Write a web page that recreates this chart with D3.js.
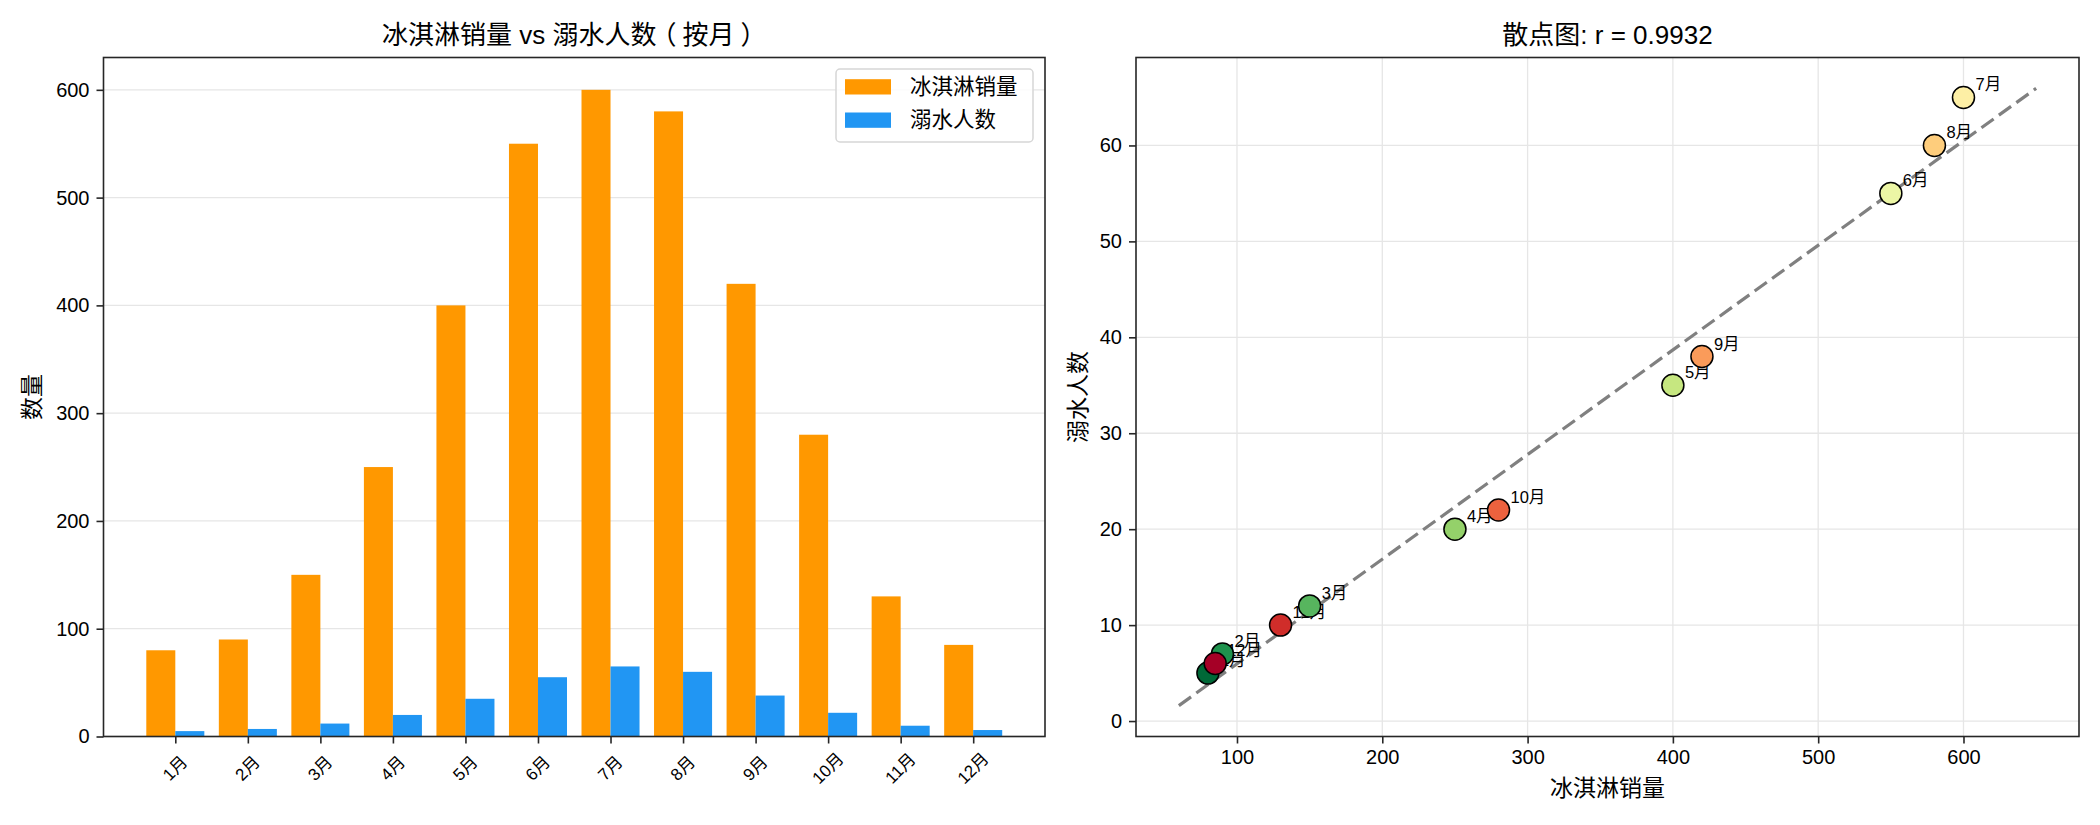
<!DOCTYPE html>
<html>
<head>
<meta charset="utf-8">
<script src="https://cdn.jsdelivr.net/npm/d3@7"></script>
<style>
  body { margin: 0; background: #fff; }
  svg text { font-family: "Liberation Sans", Arial, "Noto Sans CJK SC", sans-serif; fill: #000; }
</style>
</head>
<body>
<div id="chart"></div>
<script>
// data
var months = ["1月", "2月", "3月", "4月", "5月", "6月", "7月", "8月", "9月", "10月", "11月", "12月"];
var iceCream = [80, 90, 150, 250, 400, 550, 600, 580, 420, 280, 130, 85];
var drowning = [5, 7, 12, 20, 35, 55, 65, 60, 38, 22, 10, 6];
var barTicks = [0, 100, 200, 300, 400, 500, 600];
var scatterXTicks = [100, 200, 300, 400, 500, 600];
var scatterYTicks = [0, 10, 20, 30, 40, 50, 60];
var seriesNames = ["冰淇淋销量", "溺水人数"];
var seriesColors = ["#ff9800", "#2196f3"];

var svgWidth = 2100;
var svgHeight = 825;
var spineColor = "#262626";

var svg = d3.select("#chart")
  .append("svg")
  .attr("width", svgWidth)
  .attr("height", svgHeight);

// matplotlib-like 5% margins
function pad(lo, hi) {
  var s = hi - lo;
  return [lo - 0.05 * s, hi + 0.05 * s];
}

function styleAxis(g) {
  g.select(".domain").remove();
  g.selectAll(".tick line").attr("stroke", spineColor).attr("stroke-width", 1.6);
  g.selectAll(".tick text").style("font-size", "20px").attr("fill", "#000");
}

// ============ left: grouped bars ============
var L = { left: 103.5, right: 1045, top: 57.5, bottom: 736.5 };
var barW = 0.4;

var xBar = d3.scaleLinear()
  .domain(pad(-barW, months.length - 1 + barW))
  .range([L.left, L.right]);
var yBar = d3.scaleLinear()
  .domain([0, d3.max(iceCream) * 1.05])
  .range([L.bottom, L.top]);

var left = svg.append("g");

// grid
left.append("g").selectAll("line")
  .data(barTicks)
  .enter()
  .append("line")
  .attr("x1", L.left).attr("x2", L.right)
  .attr("y1", d => yBar(d)).attr("y2", d => yBar(d))
  .attr("stroke", "#e6e6e6")
  .attr("stroke-width", 1.3);

// bars
left.append("g").selectAll("rect")
  .data(iceCream)
  .enter()
  .append("rect")
  .attr("x", (d, i) => xBar(i - barW))
  .attr("width", (d, i) => xBar(i) - xBar(i - barW))
  .attr("y", d => yBar(d))
  .attr("height", d => yBar(0) - yBar(d))
  .attr("fill", seriesColors[0]);

left.append("g").selectAll("rect")
  .data(drowning)
  .enter()
  .append("rect")
  .attr("x", (d, i) => xBar(i))
  .attr("width", (d, i) => xBar(i + barW) - xBar(i))
  .attr("y", d => yBar(d))
  .attr("height", d => yBar(0) - yBar(d))
  .attr("fill", seriesColors[1]);

// axes
left.append("g")
  .attr("transform", `translate(${L.left},0)`)
  .call(d3.axisLeft(yBar).tickValues(barTicks).tickSize(7).tickPadding(7))
  .call(styleAxis);

left.append("g")
  .attr("transform", `translate(0,${L.bottom})`)
  .call(d3.axisBottom(xBar).tickValues(d3.range(months.length)).tickSize(7).tickFormat(""))
  .call(styleAxis);

left.append("g").selectAll("text")
  .data(months)
  .enter()
  .append("text")
  .attr("transform", (d, i) => `translate(${xBar(i)},${L.bottom + 32}) rotate(-45)`)
  .attr("text-anchor", "middle")
  .attr("dominant-baseline", "central")
  .style("font-size", "17px")
  .text(d => d);

left.append("rect")
  .attr("x", L.left).attr("y", L.top)
  .attr("width", L.right - L.left).attr("height", L.bottom - L.top)
  .attr("fill", "none")
  .attr("stroke", spineColor)
  .attr("stroke-width", 1.6);

left.append("text")
  .attr("transform", `translate(32,${(L.top + L.bottom) / 2}) rotate(-90)`)
  .attr("text-anchor", "middle")
  .attr("dominant-baseline", "central")
  .style("font-size", "23px")
  .text("数量");

// title: the full-width brackets sit centred in their cells in the reference
var title = left.append("text")
  .attr("x", (L.left + L.right) / 2)
  .attr("y", 35)
  .attr("text-anchor", "middle")
  .attr("dominant-baseline", "central")
  .style("font-size", "26px");
title.append("tspan").text("冰淇淋销量 vs 溺水人数");
title.append("tspan").attr("dx", -6).text("（");
title.append("tspan").attr("dx", 6).text("按月");
title.append("tspan").attr("dx", 6).text("）");

// legend
var legend = left.append("g").attr("transform", "translate(836,69)");
legend.append("rect")
  .attr("width", 197).attr("height", 73)
  .attr("rx", 4)
  .attr("fill", "#fff")
  .attr("fill-opacity", 0.85)
  .attr("stroke", "#d6d6d6")
  .attr("stroke-width", 1.5);

var legendRow = legend.selectAll("g.row")
  .data(seriesNames)
  .enter()
  .append("g")
  .attr("class", "row")
  .attr("transform", (d, i) => `translate(0,${17.7 + i * 33.3})`);
legendRow.append("rect")
  .attr("x", 9).attr("y", -7.5)
  .attr("width", 46).attr("height", 15.3)
  .attr("fill", (d, i) => seriesColors[i]);
legendRow.append("text")
  .attr("x", 74)
  .attr("dominant-baseline", "central")
  .style("font-size", "21.5px")
  .text(d => d);

// ============ right: scatter ============
var R = { left: 1136, right: 2079, top: 57.5, bottom: 736.5 };

// least squares fit and correlation
var mx = d3.mean(iceCream), my = d3.mean(drowning);
var sxy = d3.sum(iceCream, (x, i) => (x - mx) * (drowning[i] - my));
var sxx = d3.sum(iceCream, x => (x - mx) * (x - mx));
var syy = d3.sum(drowning, y => (y - my) * (y - my));
var slope = sxy / sxx;
var intercept = my - slope * mx;
var r = sxy / Math.sqrt(sxx * syy);
var fitX = [d3.min(iceCream) - 20, d3.max(iceCream) + 50];
var fitPts = fitX.map(x => [x, slope * x + intercept]);

var xSc = d3.scaleLinear()
  .domain(pad(fitX[0], fitX[1]))
  .range([R.left, R.right]);
var ySc = d3.scaleLinear()
  .domain(pad(Math.min(fitPts[0][1], d3.min(drowning)), Math.max(fitPts[1][1], d3.max(drowning))))
  .range([R.bottom, R.top]);

var right = svg.append("g");

right.append("g").selectAll("line")
  .data(scatterXTicks)
  .enter()
  .append("line")
  .attr("x1", d => xSc(d)).attr("x2", d => xSc(d))
  .attr("y1", R.top).attr("y2", R.bottom)
  .attr("stroke", "#e6e6e6")
  .attr("stroke-width", 1.3);
right.append("g").selectAll("line")
  .data(scatterYTicks)
  .enter()
  .append("line")
  .attr("x1", R.left).attr("x2", R.right)
  .attr("y1", d => ySc(d)).attr("y2", d => ySc(d))
  .attr("stroke", "#e6e6e6")
  .attr("stroke-width", 1.3);

right.append("path")
  .datum(fitPts)
  .attr("d", d3.line().x(d => xSc(d[0])).y(d => ySc(d[1])))
  .attr("fill", "none")
  .attr("stroke", "#808080")
  .attr("stroke-width", 3.2)
  .attr("stroke-dasharray", "15,6.5");

// month labels (drawn under the points, like the reference)
right.append("g").selectAll("text")
  .data(months)
  .enter()
  .append("text")
  .attr("x", (d, i) => xSc(iceCream[i]) + 12)
  .attr("y", (d, i) => ySc(drowning[i]) - 7)
  .style("font-size", "16.5px")
  .text(d => d);

var colorOf = i => d3.interpolateRdYlGn(1 - i / (months.length - 1));

right.append("g").selectAll("circle")
  .data(iceCream)
  .enter()
  .append("circle")
  .attr("cx", d => xSc(d))
  .attr("cy", (d, i) => ySc(drowning[i]))
  .attr("r", 11)
  .attr("fill", (d, i) => colorOf(i))
  .attr("stroke", "#000")
  .attr("stroke-width", 1.5);

right.append("g")
  .attr("transform", `translate(${R.left},0)`)
  .call(d3.axisLeft(ySc).tickValues(scatterYTicks).tickSize(7).tickPadding(7))
  .call(styleAxis);
right.append("g")
  .attr("transform", `translate(0,${R.bottom})`)
  .call(d3.axisBottom(xSc).tickValues(scatterXTicks).tickSize(7).tickPadding(6))
  .call(styleAxis);

right.append("rect")
  .attr("x", R.left).attr("y", R.top)
  .attr("width", R.right - R.left).attr("height", R.bottom - R.top)
  .attr("fill", "none")
  .attr("stroke", spineColor)
  .attr("stroke-width", 1.6);

right.append("text")
  .attr("x", (R.left + R.right) / 2)
  .attr("y", 35)
  .attr("text-anchor", "middle")
  .attr("dominant-baseline", "central")
  .style("font-size", "26px")
  .text("散点图: r = " + r.toFixed(4));

right.append("text")
  .attr("x", (R.left + R.right) / 2)
  .attr("y", 788)
  .attr("text-anchor", "middle")
  .attr("dominant-baseline", "central")
  .style("font-size", "23px")
  .text("冰淇淋销量");

right.append("text")
  .attr("transform", `translate(1078,${(R.top + R.bottom) / 2}) rotate(-90)`)
  .attr("text-anchor", "middle")
  .attr("dominant-baseline", "central")
  .style("font-size", "23px")
  .text("溺水人数");
</script>
</body>
</html>
